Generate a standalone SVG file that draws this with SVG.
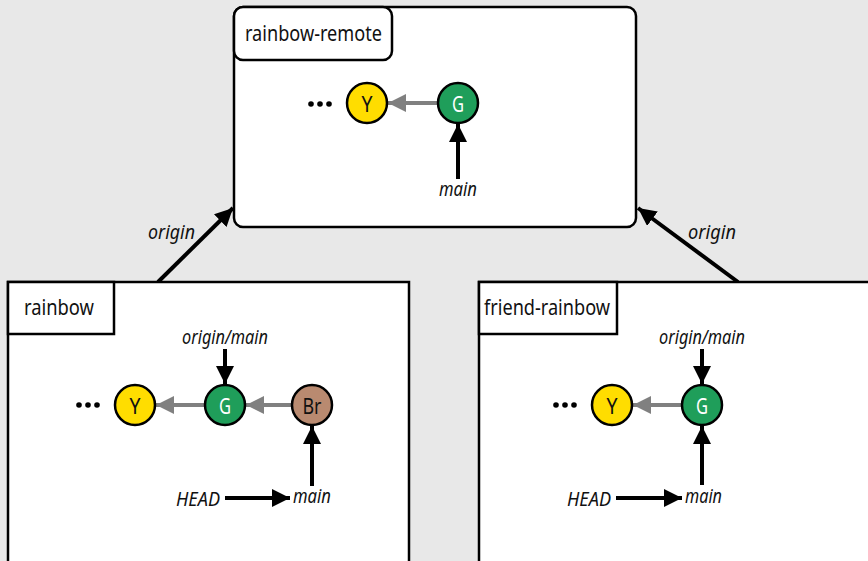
<svg xmlns="http://www.w3.org/2000/svg" width="868" height="561" viewBox="0 0 868 561">
<defs>
<style>
.bg{fill:#e8e8e8}
.box{fill:#fff;stroke:#000;stroke-width:2.5}
.tab{font-family:"Noto Sans","Open Sans",sans-serif;font-size:22px;fill:#111}
.lab{font-family:"Noto Sans","Open Sans",sans-serif;font-size:19px;font-style:italic;fill:#111}
.cl{font-family:"Noto Sans","Open Sans",sans-serif;font-size:22px;text-anchor:middle;dominant-baseline:central}
.cm{stroke:#000;stroke-width:2.5}
.par{stroke:#808080;stroke-width:4;fill:none}
.ref{stroke:#000;stroke-width:4;fill:none}
.dot{fill:#000}
</style>
<marker id="ag" viewBox="0 0 18 18" refX="18" refY="9" markerWidth="18" markerHeight="18" markerUnits="userSpaceOnUse" orient="auto"><path d="M0,0 L18,9 L0,18 Z" fill="#808080"/></marker>
<marker id="ab" viewBox="0 0 18 18" refX="18" refY="9" markerWidth="18" markerHeight="18" markerUnits="userSpaceOnUse" orient="auto"><path d="M0,0 L18,9 L0,18 Z" fill="#000"/></marker>
</defs>
<rect class="bg" x="0" y="0" width="868" height="561"/>

<g id="connectors">
<line class="ref" x1="158" y1="282" x2="233" y2="208" marker-end="url(#ab)"/>
<line class="ref" x1="738" y1="282" x2="638" y2="208" marker-end="url(#ab)"/>
<text class="lab" x="148" y="239" textLength="47" lengthAdjust="spacingAndGlyphs">origin</text>
<text class="lab" x="688" y="239" textLength="48" lengthAdjust="spacingAndGlyphs">origin</text>
</g>

<g id="rainbow-remote">
<rect class="box" x="234" y="7" width="402" height="220" rx="9"/>
<rect class="box" x="234" y="7" width="158" height="53" rx="9"/>
<text class="tab" x="245" y="41" textLength="137" lengthAdjust="spacingAndGlyphs">rainbow-remote</text>
<circle class="dot" cx="311" cy="104" r="2.8"/><circle class="dot" cx="320" cy="104" r="2.8"/><circle class="dot" cx="329" cy="104" r="2.8"/>
<line class="par" x1="438" y1="103" x2="388" y2="103" marker-end="url(#ag)"/>
<line class="ref" x1="458" y1="179" x2="458" y2="124" marker-end="url(#ab)"/>
<circle class="cm" cx="367" cy="103" r="20" fill="#ffdd00"/>
<text class="cl" x="367" y="103" fill="#111" textLength="11" lengthAdjust="spacingAndGlyphs">Y</text>
<circle class="cm" cx="458" cy="103" r="20" fill="#1f9e5a"/>
<text class="cl" x="458" y="103" fill="#fff" textLength="12" lengthAdjust="spacingAndGlyphs">G</text>
<text class="lab" x="458" y="196" text-anchor="middle" textLength="38" lengthAdjust="spacingAndGlyphs">main</text>
</g>

<g id="rainbow">
<rect class="box" x="8" y="282" width="401" height="290"/>
<rect class="box" x="8" y="282" width="106" height="52"/>
<text class="tab" x="24" y="315" textLength="70" lengthAdjust="spacingAndGlyphs">rainbow</text>
<circle class="dot" cx="79" cy="405" r="2.8"/><circle class="dot" cx="88" cy="405" r="2.8"/><circle class="dot" cx="97" cy="405" r="2.8"/>
<line class="par" x1="205" y1="405" x2="156" y2="405" marker-end="url(#ag)"/>
<line class="par" x1="292" y1="405" x2="246" y2="405" marker-end="url(#ag)"/>
<line class="ref" x1="225" y1="349" x2="225" y2="384" marker-end="url(#ab)"/>
<line class="ref" x1="312" y1="486" x2="312" y2="426" marker-end="url(#ab)"/>
<line class="ref" x1="225" y1="498" x2="290" y2="498" marker-end="url(#ab)"/>
<circle class="cm" cx="135" cy="405" r="20" fill="#ffdd00"/>
<text class="cl" x="135" y="405" fill="#111" textLength="11" lengthAdjust="spacingAndGlyphs">Y</text>
<circle class="cm" cx="225" cy="405" r="20" fill="#1f9e5a"/>
<text class="cl" x="225" y="405" fill="#fff" textLength="12" lengthAdjust="spacingAndGlyphs">G</text>
<circle class="cm" cx="312" cy="405" r="20" fill="#b98a70"/>
<text class="cl" x="312" y="405" fill="#111" textLength="19" lengthAdjust="spacingAndGlyphs">Br</text>
<text class="lab" x="225" y="344" text-anchor="middle" textLength="86" lengthAdjust="spacingAndGlyphs">origin/main</text>
<text class="lab" x="176" y="506" textLength="44" lengthAdjust="spacingAndGlyphs">HEAD</text>
<text class="lab" x="293" y="503" textLength="38" lengthAdjust="spacingAndGlyphs">main</text>
</g>

<g id="friend-rainbow">
<rect class="box" x="479" y="282" width="400" height="290"/>
<rect class="box" x="479" y="282" width="138" height="52"/>
<text class="tab" x="484" y="315" textLength="126" lengthAdjust="spacingAndGlyphs">friend-rainbow</text>
<circle class="dot" cx="556" cy="405" r="2.8"/><circle class="dot" cx="565" cy="405" r="2.8"/><circle class="dot" cx="574" cy="405" r="2.8"/>
<line class="par" x1="682" y1="405" x2="633" y2="405" marker-end="url(#ag)"/>
<line class="ref" x1="702" y1="349" x2="702" y2="384" marker-end="url(#ab)"/>
<line class="ref" x1="702" y1="485" x2="702" y2="426" marker-end="url(#ab)"/>
<line class="ref" x1="616" y1="498" x2="682" y2="498" marker-end="url(#ab)"/>
<circle class="cm" cx="612" cy="405" r="20" fill="#ffdd00"/>
<text class="cl" x="612" y="405" fill="#111" textLength="11" lengthAdjust="spacingAndGlyphs">Y</text>
<circle class="cm" cx="702" cy="405" r="20" fill="#1f9e5a"/>
<text class="cl" x="702" y="405" fill="#fff" textLength="12" lengthAdjust="spacingAndGlyphs">G</text>
<text class="lab" x="702" y="344" text-anchor="middle" textLength="86" lengthAdjust="spacingAndGlyphs">origin/main</text>
<text class="lab" x="567" y="506" textLength="44" lengthAdjust="spacingAndGlyphs">HEAD</text>
<text class="lab" x="685" y="503" textLength="37" lengthAdjust="spacingAndGlyphs">main</text>
</g>
</svg>
